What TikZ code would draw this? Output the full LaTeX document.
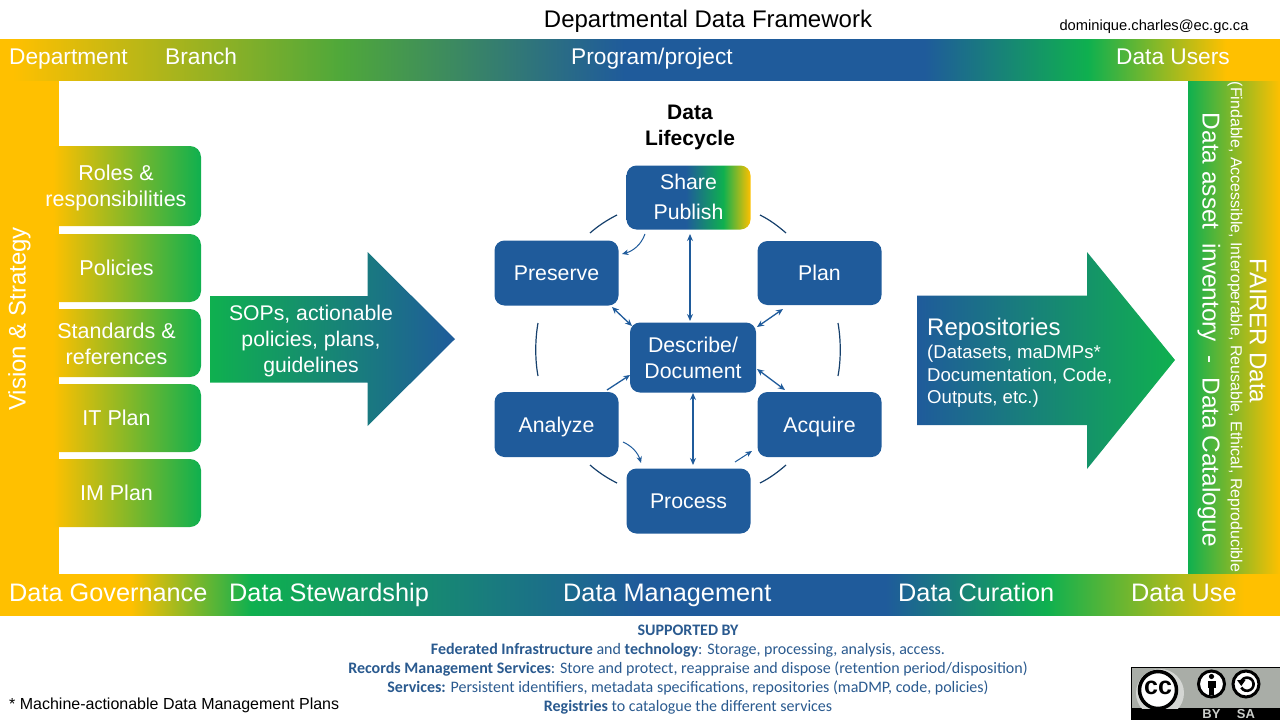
\documentclass[tikz,border=0pt]{standalone}
\usepackage{fontspec}
\setmainfont{Liberation Sans}
\newfontfamily\carl{Carlito}
\usetikzlibrary{arrows.meta}
\definecolor{yy}{HTML}{FFC000}
\definecolor{gg}{HTML}{0FB04F}
\definecolor{gm}{HTML}{4FA83A}
\definecolor{bb}{HTML}{1F5B9B}
\definecolor{supp}{HTML}{2A5A8F}
\definecolor{ggrey}{HTML}{A9ADA7}
\pgfdeclarehorizontalshading{topbar}{100bp}{color(0bp)=(yy);color(25.5bp)=(yy);color(38.3bp)=(gm);color(49.4bp)=(bb);color(61.1bp)=(bb);color(67.5bp)=(gg);color(72.9bp)=(yy);color(100bp)=(yy)}
\pgfdeclarehorizontalshading{botbar}{100bp}{color(0bp)=(yy);color(30.1bp)=(yy);color(34.8bp)=(gg);color(50bp)=(bb);color(59.6bp)=(bb);color(65.9bp)=(gg);color(73.6bp)=(yy);color(100bp)=(yy)}
\pgfdeclarehorizontalshading{yg}{100bp}{color(0bp)=(yy);color(30bp)=(yy);color(75bp)=(gg);color(100bp)=(gg)}
\pgfdeclarehorizontalshading{gy}{100bp}{color(0bp)=(gg);color(25bp)=(gg);color(75bp)=(yy);color(100bp)=(yy)}
\pgfdeclarehorizontalshading{gb}{100bp}{color(0bp)=(gg);color(25bp)=(gg);color(75bp)=(bb);color(100bp)=(bb)}
\pgfdeclarehorizontalshading{bg}{100bp}{color(0bp)=(bb);color(25bp)=(bb);color(75bp)=(gg);color(100bp)=(gg)}
\pgfdeclarehorizontalshading{byg}{100bp}{color(0bp)=(bb);color(49bp)=(bb);color(64bp)=(gg);color(75bp)=(yy);color(100bp)=(yy)}
\tikzset{
  wt/.style={text=white,inner sep=0pt},
  toptxt/.style={text=white,font=\fontsize{22.7}{26}\selectfont,inner sep=0pt,anchor=base west},
  bottxt/.style={text=white,font=\fontsize{25.3}{28}\selectfont,inner sep=0pt,anchor=base west},
  sideshape/.style={shading=yg,rounded corners=11pt},
  sidetxt/.style={text=white,align=center,inner sep=0pt,font=\fontsize{21.5}{26}\selectfont},
  lifebox/.style={rounded corners=10pt,inner sep=0pt,minimum width=124pt,minimum height=65pt},
  lifetxt/.style={text=white,align=center,inner sep=0pt,font=\fontsize{21.3}{30}\selectfont},
  onetxt/.style={lifetxt,text height=15pt,text depth=0pt},
  cyc/.style={draw=bb!70!black,line width=1.2pt},
  dbl/.style={draw=bb,line width=1.3pt,{Stealth[length=7pt,width=6pt]}-{Stealth[length=7pt,width=6pt]}},
  sgl/.style={draw=bb,line width=1pt,-{Stealth[length=6.5pt,width=5.5pt]}},
  suptxt/.style={text=supp,font=\carl\fontsize{16}{18}\selectfont,inner sep=0pt,anchor=base},
}
\begin{document}
\begin{tikzpicture}[x=1pt,y=-1pt]
\useasboundingbox (0,0) rectangle (1280,720);
% frame
\path[fill=yy] (0,80) rectangle (59,574);
\path[shading=gy] (1188,80) rectangle (1280,574);
\path[shading=topbar] (0,39) rectangle (1280,80);
\path[shading=botbar] (0,574) rectangle (1280,615);
% title
\node[inner sep=0pt,anchor=base,font=\fontsize{24}{26}\selectfont] (title) at (708,27.5) {Departmental Data Framework};
\node[inner sep=0pt,anchor=base,font=\fontsize{14.7}{18}\selectfont] (mail) at (1154,30) {dominique.charles@ec.gc.ca};
% bars
\node[toptxt] (tb1) at (9,64) {Department};
\node[toptxt] (tb2) at (165,64) {Branch};
\node[toptxt] (tb3) at (571,64) {Program/project};
\node[toptxt] (tb4) at (1116,64) {Data Users};
\node[bottxt] (bb1) at (9,601) {Data Governance};
\node[bottxt] (bb2) at (229,601) {Data Stewardship};
\node[bottxt] (bb3) at (563,601) {Data Management};
\node[bottxt] (bb4) at (898,601) {Data Curation};
\node[bottxt] (bb5) at (1131,601) {Data Use};
% vertical
\node[wt,rotate=90,font=\fontsize{24}{26}\selectfont] (vs) at (19.5,319) {Vision \& Strategy};
\node[wt,rotate=-90,font=\fontsize{24.1}{26}\selectfont] (fd) at (1258,331) {FAIRER Data};
\node[wt,rotate=-90,font=\fontsize{15.95}{18}\selectfont] (fn) at (1235,327) {(Findable, Accessible, Interoperable, Reusable, Ethical, Reproducible};
\node[wt,rotate=-90,font=\fontsize{24.4}{26}\selectfont] (da) at (1209,330) {Data asset\ \ inventory\ \ -\ \ Data Catalogue};
% side boxes
\path[sideshape] (36,146) rectangle (201,226);
\node[sidetxt] (r1) at (116,188) {Roles \&\\responsibilities};
\path[sideshape] (36,234) rectangle (201,302);
\node[sidetxt] (r2) at (116.5,268) {Policies};
\path[sideshape] (36,309) rectangle (201,377);
\node[sidetxt] (r3) at (116.5,344) {Standards \&\\references};
\path[sideshape] (36,384) rectangle (201,452);
\node[sidetxt] (r4) at (116.5,418) {IT Plan};
\path[sideshape] (36,459) rectangle (201,527);
\node[sidetxt] (r5) at (116.5,493) {IM Plan};
% big arrows
\path[shading=gb] (210,296) -- (367.5,296) -- (367.5,252) -- (455,339) -- (367.5,426) -- (367.5,382.5) -- (210,382.5) -- cycle;
\node[inner sep=0pt,text=white,align=center,font=\fontsize{21.2}{26}\selectfont] (a1) at (311,341.5) {SOPs, actionable\\policies, plans,\\guidelines};
\path[shading=bg] (917,295.5) -- (1087,295.5) -- (1087,252) -- (1175,360) -- (1087,469) -- (1087,425) -- (917,425) -- cycle;
\node[inner sep=0pt,text=white,anchor=base west,font=\fontsize{24}{26}\selectfont] (a2) at (927,335) {Repositories};
\node[inner sep=0pt,text=white,anchor=north west,align=left,font=\fontsize{18.6}{22.5}\selectfont] (a3) at (927,345) {(Datasets, maDMPs*\\Documentation, Code,\\Outputs, etc.)};
% lifecycle
\node[inner sep=0pt,align=center,font=\bfseries\fontsize{21}{26}\selectfont] (lc) at (690,127) {Data\\Lifecycle};
\node[lifebox,shading=byg,minimum height=64pt] (sh) at (688.5,197.5) {};
\node[lifetxt] (shl) at (688.5,196.5) {Share\\Publish};
\node[lifebox,fill=bb] (pr) at (556.5,273) {};
\node[onetxt] (prl) at (pr.center) {Preserve};
\node[lifebox,fill=bb,minimum height=64pt] (pl) at (819.5,273) {};
\node[onetxt] (pll) at (pl.center) {Plan};
\node[lifebox,fill=bb,minimum width=126pt,minimum height=70pt] (de) at (693,357.5) {};
\node[lifetxt,font=\fontsize{21.3}{26}\selectfont] (del) at (693,357.5) {Describe/\\Document};
\node[lifebox,fill=bb] (an) at (556.5,424.5) {};
\node[onetxt] (anl) at (an.center) {Analyze};
\node[lifebox,fill=bb] (ac) at (819.5,424.5) {};
\node[onetxt] (acl) at (ac.center) {Acquire};
\node[lifebox,fill=bb] (ps) at (688.5,501) {};
\node[onetxt] (psl) at (ps.center) {Process};
% cycle arcs
\coordinate (c1a) at (617,215); \coordinate (c1b) at (590,233);
\draw[cyc] (c1a) .. controls (607,220) and (598,226) .. (c1b);
\coordinate (c2a) at (760,215); \coordinate (c2b) at (786,233);
\draw[cyc] (c2a) .. controls (770,220) and (778,226) .. (c2b);
\coordinate (c3a) at (538,323); \coordinate (c3b) at (538,376);
\draw[cyc] (c3a) .. controls (535,340) and (535,360) .. (c3b);
\coordinate (c4a) at (838,323); \coordinate (c4b) at (838,376);
\draw[cyc] (c4a) .. controls (841,340) and (841,360) .. (c4b);
\coordinate (c5a) at (590,465); \coordinate (c5b) at (617,483);
\draw[cyc] (c5a) .. controls (598,472) and (607,478) .. (c5b);
\coordinate (c6a) at (786,465); \coordinate (c6b) at (760,483);
\draw[cyc] (c6a) .. controls (778,472) and (770,478) .. (c6b);
% small arrows
\coordinate (s1a) at (645,234); \coordinate (s1b) at (622,254);
\draw[sgl] (s1a) .. controls (641,245) and (633,251) .. (s1b);
\coordinate (s2a) at (623,442); \coordinate (s2b) at (641,463);
\draw[sgl] (s2a) .. controls (632,446) and (638,453) .. (s2b);
\coordinate (s3a) at (735,462); \coordinate (s3b) at (752,451);
\draw[sgl] (s3a) -- (s3b);
% double arrows
\coordinate (d1a) at (690,234); \coordinate (d1b) at (690,321);
\draw[dbl] (d1a) -- (d1b);
\coordinate (d2a) at (693,393); \coordinate (d2b) at (693,465);
\draw[dbl] (d2a) -- (d2b);
\coordinate (d3a) at (612,307); \coordinate (d3b) at (632,326);
\draw[dbl] (d3a) -- (d3b);
\coordinate (d4a) at (757,327); \coordinate (d4b) at (783,309);
\draw[dbl] (d4a) -- (d4b);
\coordinate (d5a) at (757,369); \coordinate (d5b) at (785,390);
\draw[dbl] (d5a) -- (d5b);
\coordinate (d6a) at (607,390); \coordinate (d6b) at (630,375);
\draw[sgl,line width=1.3pt] (d6a) -- (d6b);
% supported
\node[suptxt,font=\carl\bfseries\fontsize{16}{18}\selectfont] (s0) at (688,635) {SUPPORTED BY};
\node[suptxt] (s1) at (688,654) {\textbf{Federated Infrastructure} and \textbf{technology}: Storage, processing, analysis, access.};
\node[suptxt] (s2) at (688,673) {\textbf{Records Management Services}: Store and protect, reappraise and dispose (retention period/disposition)};
\node[suptxt] (s3) at (688,692) {\textbf{Services:} Persistent identifiers, metadata specifications, repositories (maDMP, code, policies)};
\node[suptxt] (s4) at (688,711) {\textbf{Registries} to catalogue the different services};
\node[inner sep=0pt,anchor=base west,font=\fontsize{16}{18}\selectfont] (fn2) at (9,709) {* Machine-actionable Data Management Plans};
% cc badge
\path[fill=ggrey,draw=black,line width=.8pt] (1131.5,667.5) rectangle (1280,720);
\path[fill=black] (1131.5,708) rectangle (1280,720);
\begin{scope}
\clip (1131.5,667.5) rectangle (1280,708);
\fill[ggrey!50!white] (1160,693) circle (24);
\end{scope}
\path[fill=white,draw=black,line width=3.5pt] (1158,690) circle (18.5);
\node[inner sep=0pt,font=\bfseries\fontsize{25}{26}\selectfont] (cc) at (1158,687.5) {cc};
\path[fill=white,draw=black,line width=3pt] (1211.5,684) circle (13);
\fill[black] (1211.5,676.5) circle (2.6);
\fill[black] (1207.5,680.5) rectangle (1215.5,688);
\fill[black] (1209,688) rectangle (1214,695);
\path[fill=white,draw=black,line width=3pt] (1246,684) circle (13);
\draw[black,line width=2.6pt] (1241.3,687.5) arc[start angle=150,end angle=-150,radius=6.6];
\fill[black] (1237,680) -- (1245.5,680) -- (1241.3,686) -- cycle;
\node[inner sep=0pt,text=ggrey!60!white,font=\bfseries\fontsize{13}{14}\selectfont] (by) at (1211.5,714) {BY};
\node[inner sep=0pt,text=ggrey!60!white,font=\bfseries\fontsize{13}{14}\selectfont] (sa) at (1246,714) {SA};
\end{tikzpicture}
\end{document}
